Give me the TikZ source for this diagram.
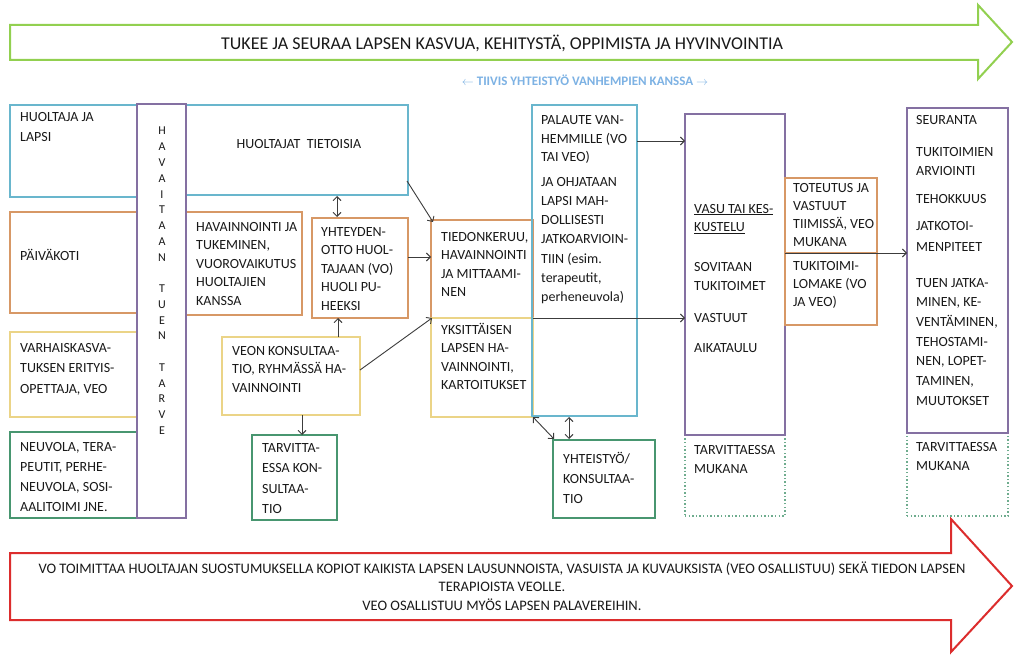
\documentclass[tikz,border=0pt]{standalone}
\usepackage{fontspec}
\setmainfont{Carlito}
\usetikzlibrary{arrows.meta,calc}
\definecolor{cblue}{RGB}{105,182,205}
\definecolor{corange}{RGB}{215,152,102}
\definecolor{cyellow}{RGB}{235,212,135}
\definecolor{cgreen}{RGB}{72,150,112}
\definecolor{cpurple}{RGB}{132,112,162}
\definecolor{cdot}{RGB}{110,172,142}
\definecolor{agreen}{RGB}{146,208,80}
\definecolor{ared}{RGB}{220,45,45}
\definecolor{txtc}{RGB}{25,25,25}
\definecolor{conc}{RGB}{60,60,60}
\definecolor{lblue}{RGB}{125,178,228}
\newcommand\tl[2][19]{\vtop{\baselineskip=#1pt\lineskip=0pt\lineskiplimit=-30pt\halign{##\hfil\cr#2\crcr}}}
\newcommand\tlc[2][19]{\vtop{\baselineskip=#1pt\lineskip=0pt\lineskiplimit=-30pt\halign{\hfil##\hfil\cr#2\crcr}}}
\newcommand\mkbox[6]{\node[bx=#2, minimum width={(#5-#3)*1pt}, minimum height={(#6-#4)*1pt}] (#1) at (#3,#4) {};}
\tikzset{
  bx/.style={draw=#1, line width=1.5pt, inner sep=0pt, outer sep=0pt, anchor=north west},
  dbx/.style={dash pattern=on 1.4pt off 2.2pt},
  txt/.style={anchor=base west, inner sep=0pt, text=txtc, font=\fontsize{14}{16}\selectfont},
  con/.style={draw=conc, line width=0.9pt, -{Straight Barb[length=4pt,width=8pt]}},
  dcon/.style={draw=conc, line width=0.9pt, {Straight Barb[length=4pt,width=8pt]}-{Straight Barb[length=4pt,width=8pt]}},
}
\begin{document}
\begin{tikzpicture}[x=1pt,y=-1pt]
\useasboundingbox (0,0) rectangle (1014,655);
\fill[white] (0,0) rectangle (1014,655);
% top arrow
\draw[agreen, line width=2pt, fill=white, line join=miter] (10,25) -- (978,25) -- (978,5) -- (1012,42) -- (978,79) -- (978,60) -- (10,60) -- cycle;
\node[txt, anchor=center, font=\fontsize{18}{20}\selectfont] (ttop) at (502,43) {TUKEE JA SEURAA LAPSEN KASVUA, KEHITYSTÄ, OPPIMISTA JA HYVINVOINTIA};
\node[txt, anchor=center, text=lblue, font=\bfseries\fontsize{13}{15}\selectfont] (tyht) at (585,80) {$\leftarrow$ TIIVIS YHTEISTYÖ VANHEMPIEN KANSSA $\rightarrow$};
% bottom arrow
\draw[ared, line width=2pt, fill=white, line join=miter] (10,553) -- (951,553) -- (951,519) -- (1012,586) -- (951,652) -- (951,620) -- (10,620) -- cycle;
\node[txt, anchor=base, font=\fontsize{14.5}{17}\selectfont] (tbot) at (502,573) {\tlc[18.5]{VO TOIMITTAA HUOLTAJAN SUOSTUMUKSELLA KOPIOT KAIKISTA LAPSEN LAUSUNNOISTA, VASUISTA JA KUVAUKSISTA (VEO OSALLISTUU) SEKÄ TIEDON LAPSEN\cr TERAPIOISTA VEOLLE.\cr VEO OSALLISTUU MYÖS LAPSEN PALAVEREIHIN.}};
% dotted boxes
\node[bx=cdot, dbx, minimum width=100pt, minimum height=81pt] (tm1) at (685,435) {};
\node[bx=cdot, dbx, minimum width=101pt, minimum height=83pt] (tm2) at (907,433) {};
% boxes
\mkbox{hl}{cblue}{10}{105}{137}{197}
\mkbox{pk}{corange}{10}{212}{137}{313}
\mkbox{veo}{cyellow}{10}{332}{137}{417}
\mkbox{neu}{cgreen}{10}{432}{137}{518}
\mkbox{ht}{cblue}{186}{105}{408}{195}
\mkbox{hav}{corange}{186}{212}{302}{315}
\mkbox{yo}{corange}{312}{218}{408}{318}
\mkbox{vk}{cyellow}{222}{337}{360}{415}
\mkbox{tk}{cgreen}{252}{435}{337}{520}
\mkbox{tie}{corange}{431}{220}{533}{318}
\mkbox{yks}{cyellow}{431}{318}{533}{417}
\mkbox{pal}{cblue}{532}{105}{637}{416}
\mkbox{yht}{cgreen}{553}{440}{655}{518}
\mkbox{vasu}{cpurple}{685}{114}{785}{435}
\mkbox{tot}{corange}{785}{178}{877}{253}
\mkbox{tuk}{corange}{785}{253}{877}{325}
\mkbox{seu}{cpurple}{907}{108}{1008}{433}
\mkbox{hv}{cpurple}{137}{104}{186}{518}
% vertical letters
\foreach \l [count=\i from 0] in {H,A,V,A,I,T,A,A,N,{},T,U,E,N,{},T,A,R,V,E}
  \node[txt, anchor=base, font=\fontsize{12}{14}\selectfont] (hv\i) at (162,{135+15.75*\i}) {\l};
% texts
\node[txt] (thl) at (20,122) {\tl[20]{HUOLTAJA JA\cr LAPSI}};
\node[txt, anchor=base] (tht) at (299,149) {HUOLTAJAT\ \ TIETOISIA};
\node[txt] (tpk) at (20,260) {PÄIVÄKOTI};
\node[txt] (thav) at (196,231) {\tl[18.5]{HAVAINNOINTI JA\cr TUKEMINEN,\cr VUOROVAIKUTUS\cr HUOLTAJIEN\cr KANSSA}};
\node[txt] (tyo) at (321,236) {\tl[18.5]{YHTEYDEN-\cr OTTO HUOL-\cr TAJAAN (VO)\cr HUOLI PU-\cr HEEKSI}};
\node[txt] (tveo) at (20,352) {\tl[20.5]{VARHAISKASVA-\cr TUKSEN ERITYIS-\cr OPETTAJA, VEO}};
\node[txt] (tneu) at (20,451) {\tl[20.3]{NEUVOLA, TERA-\cr PEUTIT, PERHE-\cr NEUVOLA, SOSI-\cr AALITOIMI JNE.}};
\node[txt] (tvk) at (232,355) {\tl[18.5]{VEON KONSULTAA-\cr TIO, RYHMÄSSÄ HA-\cr VAINNOINTI}};
\node[txt] (ttk) at (262,452) {\tl[20.5]{TARVITTA-\cr ESSA KON-\cr SULTAA-\cr TIO}};
\node[txt] (ttie) at (441,241) {\tl[18.5]{TIEDONKERUU,\cr HAVAINNOINTI\cr JA MITTAAMI-\cr NEN}};
\node[txt] (tyks) at (441,334) {\tl[18.5]{YKSITTÄISEN\cr LAPSEN HA-\cr VAINNOINTI,\cr KARTOITUKSET}};
\node[txt] (tpal1) at (541,125) {\tl[18.5]{PALAUTE VAN-\cr HEMMILLE (VO\cr TAI VEO)}};
\node[txt] (tpal2) at (541,187) {\tl[19]{JA OHJATAAN\cr LAPSI MAH-\cr DOLLISESTI\cr JATKOARVIOIN-\cr TIIN (esim.\cr terapeutit,\cr perheneuvola)}};
\node[txt] (tyht2) at (563,463) {\tl[20]{YHTEISTYÖ/\cr KONSULTAA-\cr TIO}};
\node[txt] (tvasu1) at (694,213) {\tl[18.5]{\underline{VASU TAI KES-}\cr \underline{KUSTELU}}};
\node[txt] (tvasu2) at (694,271) {\tl[19]{SOVITAAN\cr TUKITOIMET}};
\node[txt] (tvasu3) at (694,322) {VASTUUT};
\node[txt] (tvasu4) at (694,352) {AIKATAULU};
\node[txt] (ttm1) at (694,454) {\tl[19]{TARVITTAESSA\cr MUKANA}};
\node[txt] (ttot) at (793,193) {\tl[18]{TOTEUTUS JA\cr VASTUUT\cr TIIMISSÄ, VEO\cr MUKANA}};
\node[txt] (ttuk) at (793,270) {\tl[18]{TUKITOIMI-\cr LOMAKE (VO\cr JA VEO)}};
\node[txt] (tseu1) at (916,125) {SEURANTA};
\node[txt] (tseu2) at (916,157) {\tl[19]{TUKITOIMIEN\cr ARVIOINTI}};
\node[txt] (tseu3) at (916,204) {TEHOKKUUS};
\node[txt] (tseu4) at (916,230) {\tl[21]{JATKOTOI-\cr MENPITEET}};
\node[txt] (tseu5) at (916,287) {\tl[19.7]{TUEN JATKA-\cr MINEN, KE-\cr VENTÄMINEN,\cr TEHOSTAMI-\cr NEN, LOPET-\cr TAMINEN,\cr MUUTOKSET}};
\node[txt] (ttm2) at (916,451) {\tl[19]{TARVITTAESSA\cr MUKANA}};
% connectors
\draw[con] ([xshift=-1pt,yshift=14pt]ht.south east) -- ([xshift=2pt,yshift=-2pt]tie.north west);
\draw[dcon] ([xshift=151pt,yshift=-1pt]ht.south west) -- ([xshift=151pt,yshift=1pt]ht.south west |- yo.north);
\draw[con] ([yshift=11pt]yo.east) -- ([yshift=11pt]tie.west |- yo.east);
\draw[con] ([xshift=116pt]vk.north west) -- ([xshift=116pt]vk.north west |- yo.south);
\draw[con] ([yshift=6pt]vk.east) -- ([xshift=1pt]tie.south west);
\draw[con] ([xshift=80pt]vk.south west) -- ([xshift=80pt]vk.south west |- tk.north);
\draw[con] ([yshift=-36pt]pal.north east) -- ([yshift=-36pt]vasu.west |- pal.north east);
\draw[con] (yks.north east) -- (vasu.west |- yks.north east);
\draw[dcon] ([xshift=1pt,yshift=-1pt]pal.south west) -- ([xshift=1pt,yshift=1pt]yht.north west);
\draw[dcon] ([xshift=37pt,yshift=-1pt]pal.south west) -- ([xshift=37pt,yshift=1pt]pal.south west |- yht.north);
\draw[con] (vasu.east |- tot.south) -- (seu.west |- tot.south);
\end{tikzpicture}
\end{document}
